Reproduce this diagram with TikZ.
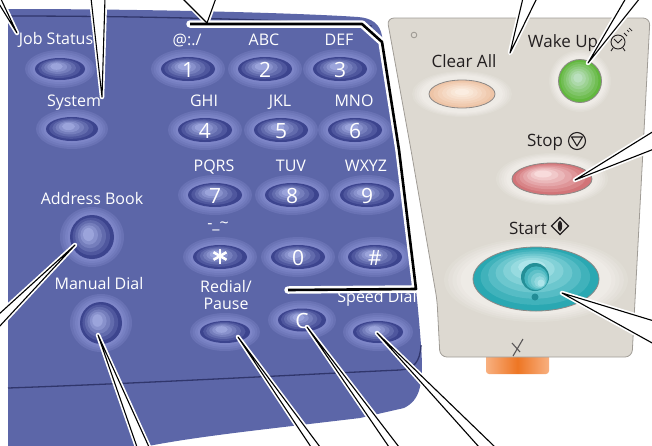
\documentclass[tikz,border=0pt]{standalone}
\usepackage{fontspec}
\setmainfont{Open Sans}

\definecolor{panel}{RGB}{92,102,168}
\definecolor{paneldark}{RGB}{48,54,108}
\definecolor{keylite}{RGB}{128,136,202}
\definecolor{keyrim}{RGB}{60,68,142}
\definecolor{keyhi}{RGB}{165,175,228}
\definecolor{beige}{RGB}{221,217,209}
\definecolor{beigelite}{RGB}{238,235,230}
\definecolor{beigeedge}{RGB}{160,156,150}
\definecolor{ink}{RGB}{35,31,32}
\definecolor{keyline}{RGB}{140,136,134}
\definecolor{peachrim}{RGB}{238,196,166}
\definecolor{peachhi}{RGB}{253,242,232}
\definecolor{greenrim}{RGB}{98,184,62}
\definecolor{greenhi}{RGB}{196,228,204}
\definecolor{pinkrim}{RGB}{210,116,120}
\definecolor{pinkhi}{RGB}{252,230,230}
\definecolor{tealrim}{RGB}{42,168,178}
\definecolor{tealhi}{RGB}{188,236,240}
\definecolor{tealdark}{RGB}{34,140,150}
\definecolor{tabmid}{RGB}{238,118,36}
\definecolor{tabend}{RGB}{248,176,128}

% blue key: centre x, centre y, x radius, y radius
\newcommand{\padkey}[4]{%
  \foreach \n in {0,...,3}{%
    \pgfmathtruncatemacro\pc{35+20*\n}%
    \fill[keylite!\pc!panel] (#1,#2) ellipse [x radius={#3+10-2.5*\n}, y radius={#4+8-2*\n}];
  }
  \fill[keyrim] (#1,#2) ellipse [x radius=#3, y radius=#4];
  \foreach \n in {1,...,5}{%
    \pgfmathtruncatemacro\pc{18*\n}%
    \fill[keyhi!\pc!keyrim] ({#1-0.7*\n},{#2-0.5*\n}) ellipse [x radius={#3*(1-0.15*\n)}, y radius={#4*(1-0.14*\n)}];
  }
}

% key on the beige panel: x, y, x radius, y radius, rim, highlight, highlight shift x, y
\newcommand{\softkey}[8]{%
  \fill[#5] (#1,#2) ellipse [x radius=#3, y radius=#4];
  \foreach \n in {1,...,6}{%
    \pgfmathtruncatemacro\pc{15*\n}%
    \fill[#6!\pc!#5] ({#1+#7*\n/6},{#2+#8*\n/6}) ellipse [x radius={#3*(1-0.13*\n)}, y radius={#4*(1-0.13*\n)}];
  }
  \draw[keyline, line width=0.8] (#1,#2) ellipse [x radius=#3, y radius=#4];
}

% light dish round a beige key
\newcommand{\keyglow}[4]{%
  \foreach \n in {0,...,4}{%
    \pgfmathtruncatemacro\pc{20+20*\n}%
    \fill[beigelite!\pc!beige] (#1,#2) ellipse [x radius={#3*(1-0.045*\n)}, y radius={#4*(1-0.045*\n)}];
  }
}

% pointer wedge: free end, tip, free end
\newcommand{\callout}[3]{%
  \fill[white] (#1) -- (#2) -- (#3) -- cycle;
  \draw[halo] (#1) -- (#2) -- (#3);
  \draw[lead] (#1) -- (#2) -- (#3);
}

\begin{document}
\begin{tikzpicture}[x=1pt, y=-1pt,
    lbl/.style={text=white, font=\fontsize{16}{16}\selectfont, inner sep=0pt, anchor=base},
    digit/.style={text=white, font=\fontsize{21}{21}\selectfont, inner sep=0pt, anchor=base},
    dlbl/.style={text=ink, font=\fontsize{17}{17}\selectfont, inner sep=0pt, anchor=base},
    halo/.style={white, line width=4.5, line join=round, line cap=round},
    lead/.style={black, line width=1.1, line join=round},
    brackethalo/.style={white, line width=7.5, line join=round, line cap=round},
    bracket/.style={black, line width=2.6, line join=round}
]
\useasboundingbox (0,0) rectangle (652,445);
\clip (0,0) rectangle (652,445);

% Keypad housing
\fill[panel] (8,9) .. controls (150,9) and (300,13) .. (358,17)
  .. controls (372,18) and (380,24) .. (382,36)
  .. controls (395,120) and (414,250) .. (421,345)
  .. controls (424,385) and (420,400) .. (404,408)
  -- (360,418) .. controls (260,430) and (180,438) .. (130,450)
  -- (8,450) -- cycle;
\draw[paneldark, line width=1.3] (8,16) .. controls (150,16) and (300,20) .. (372,26);
\draw[paneldark, line width=1.3] (8,388) .. controls (150,383) and (330,373) .. (400,370)
  .. controls (414,369) and (420,362) .. (421,345);

% Start panel
\shade[left color=tabend, right color=tabend, middle color=tabmid, rounded corners=3]
  (486,350) rectangle (549,374);
\filldraw[fill=beige, draw=beigeedge, line width=0.8, rounded corners=7]
  (387,18) -- (650,18) -- (632,357) -- (440,357) -- (437,300) -- (411,150) -- cycle;
\draw[beigeedge, line width=0.9] (414,35) circle [radius=2.8];
\draw[ink!75, line width=1.1] (513,356) -- (523,339);
\draw[ink!75, line width=1.1] (512,343) -- (520,352);

% Function keys
\padkey{60}{69}{25}{11}
\node[lbl] (jobstatus) at (56,44) {Job Status};
\padkey{72}{129}{26}{12}
\node[lbl] (system) at (74,106) {System};
\padkey{92}{237}{22}{22}
\node[lbl] (addrbook) at (92,204) {Address Book};
\padkey{101}{323}{21}{21}
\node[lbl] (manualdial) at (99,289) {Manual Dial};

% Number keys
\foreach \x/\y/\dig/\lab in {188/69/1/{@:./}, 265/69/2/ABC, 340/69/3/DEF,
    205/130/4/GHI, 281/130/5/JKL, 355/130/6/MNO,
    215/195/7/PQRS, 292/195/8/TUV, 367/195/9/WXYZ}{
  \padkey{\x}{\y}{27}{12}
  \node[digit] (key\dig) at (\x,\y+8) {\dig};
  \node[lbl] (abc\dig) at (\x-1,\y-24) {\lab};
}
\padkey{220}{257}{27}{12}
\padkey{298}{257}{27}{12}
\padkey{375}{257}{27}{12}
\coordinate (keystar) at (220,256);
\foreach \ang in {90,30,150}
  \draw[white, line width=2.6] (keystar) +(\ang:7.5) -- +(\ang+180:7.5);
\node[digit] (key0) at (298,265) {0};
\node[digit] (keyhash) at (375,265) {\#};
\node[lbl] (punct) at (218,228) {-\_\textasciitilde};

\padkey{225}{332}{25}{11}
\node[lbl] (redial) at (226,292) {Redial/};
\node[lbl] (pause) at (226,309) {Pause};
\padkey{302}{320}{24}{11.5}
\node[digit] (keyc) at (302,328) {C};
\padkey{378}{332}{25}{11}
\node[lbl] (speeddial) at (377,302) {Speed Dial};

% Clear All, Wake Up, Stop, Start
\keyglow{462}{94}{50}{23}
\softkey{462}{94}{33}{14}{peachrim}{peachhi}{0}{-2}
\node[dlbl] (clearall) at (464,67) {Clear All};

\keyglow{580}{81}{31}{31}
\softkey{580}{81}{21.5}{21.5}{greenrim}{greenhi}{-2}{-3}
\node[dlbl] (wakeup) at (563,47) {Wake Up};
\draw[ink, line width=0.9] (618,42) circle [radius=7];
\draw[ink, line width=0.9] (614,39) -- (618,43) -- (622,39);
\draw[ink, line width=0.9] (609,36) -- (612,33) (627,36) -- (624,33);
\draw[ink, line width=0.9] (613,48) -- (611,51) (623,48) -- (625,51);
\draw[ink, line width=0.7] (627,30) -- (629,32) (629,28) -- (632,31);

\keyglow{552}{179}{56}{26}
\softkey{552}{179}{40}{16}{pinkrim}{pinkhi}{-9}{-5}
\node[dlbl] (stop) at (545,146) {Stop};
\draw[ink, line width=1.1] (577,141) circle [radius=8.5];
\draw[ink, line width=1.1, line join=round] (571.5,137) -- (582.5,137) -- (577,146) -- cycle;

\keyglow{536}{280}{92}{42}
\softkey{536}{279}{63}{32}{tealrim}{tealhi}{-4}{-12}
\fill[tealrim!85!black] (535,277) circle [radius=14];
\foreach \n in {1,...,5}{
  \pgfmathtruncatemacro\pc{18*\n}
  \fill[tealhi!\pc!tealrim] ({535+1.2*\n},{277+1.2*\n}) circle [radius={14*(1-0.15*\n)}];
}
\fill[tealdark] (535,297) circle [radius=3.5];
\node[dlbl] (start) at (528,234) {Start};
\draw[ink, line width=1.1] (560,217.5) -- (568.5,226) -- (560,234.5) -- (551.5,226) -- cycle;
\fill[ink] (560,226) ellipse [x radius=2.2, y radius=5.5];

% Pointers
\coordinate (jsA) at (-4,-1);   \coordinate (jsTip) at (17,33);   \coordinate (jsB) at (0,-3);
\coordinate (sysA) at (91,-2);  \coordinate (sysTip) at (102,97); \coordinate (sysB) at (105,-2);
\coordinate (clrA) at (523,-2); \coordinate (clrTip) at (510,53); \coordinate (clrB) at (537,-2);
\coordinate (wakeA) at (626,-2); \coordinate (wakeTip) at (588,63); \coordinate (wakeB) at (640,-2);
\coordinate (stopA) at (654,131); \coordinate (stopTip) at (575,180); \coordinate (stopB) at (654,149);
\coordinate (startA) at (654,321); \coordinate (startTip) at (562,293); \coordinate (startB) at (654,344);
\coordinate (addrA) at (-2,315); \coordinate (addrTip) at (75,245); \coordinate (addrB) at (-2,328);
\coordinate (manA) at (137,447); \coordinate (manTip) at (98,335); \coordinate (manB) at (149,447);
\coordinate (redA) at (311,447); \coordinate (redTip) at (238,337); \coordinate (redB) at (320,447);
\coordinate (cA) at (389,447);  \coordinate (cTip) at (307,327);  \coordinate (cB) at (399,447);
\coordinate (spdA) at (479,447); \coordinate (spdTip) at (377,333); \coordinate (spdB) at (495,447);

\callout{jsA}{jsTip}{jsB}
\callout{sysA}{sysTip}{sysB}
\callout{clrA}{clrTip}{clrB}
\callout{wakeA}{wakeTip}{wakeB}
\callout{stopA}{stopTip}{stopB}
\callout{startA}{startTip}{startB}
\callout{addrA}{addrTip}{addrB}
\callout{manA}{manTip}{manB}
\callout{redA}{redTip}{redB}
\callout{cA}{cTip}{cB}
\callout{spdA}{spdTip}{spdB}

% Bracket round the number keys
\coordinate (padA) at (182,-2); \coordinate (padTip) at (207,23); \coordinate (padB) at (216,-2);
\coordinate (padL) at (190,24); \coordinate (padR) at (288,290);
\fill[white] (padA) -- (padTip) -- (padB) -- cycle;
\draw[halo] (padA) -- (padTip) -- (padB);
\draw[brackethalo] (padL) -- (362,24) -- (382,42) -- (399,150) -- (416,289) -- (padR);
\draw[bracket] (padL) -- (362,24) -- (382,42) -- (399,150) -- (416,289) -- (padR);
\draw[lead] (padA) -- (padTip) -- (padB);

\end{tikzpicture}
\end{document}
